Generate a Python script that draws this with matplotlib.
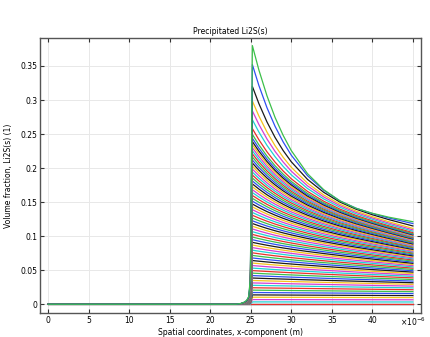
import numpy as np
import matplotlib
matplotlib.use('Agg')
import matplotlib.pyplot as plt

# peak volume fraction of each curve (time steps, first three still zero)
peaks = [0, 0, 0,
         0.0034, 0.0068, 0.0103, 0.0137, 0.0172, 0.0207, 0.0242, 0.0278,
         0.0313, 0.0349, 0.0385, 0.0421, 0.0457, 0.0494, 0.0531, 0.0568,
         0.0605, 0.0642, 0.0680, 0.0717, 0.0755, 0.0794, 0.0832, 0.0870,
         0.0909, 0.0948, 0.0987, 0.1026, 0.1066, 0.1106, 0.1146, 0.1186,
         0.1226, 0.1266, 0.1307, 0.1348, 0.1389, 0.1430, 0.1472, 0.1514,
         0.1556, 0.1598, 0.1640, 0.1682, 0.1725, 0.1768, 0.1811, 0.1854,
         0.1898, 0.1941, 0.1985, 0.2029, 0.2074, 0.2118, 0.2163, 0.2208,
         0.2253, 0.2298, 0.2344, 0.2389, 0.2438, 0.2495,
         0.258, 0.271, 0.284, 0.2985, 0.320, 0.352, 0.380]

# value of each curve at the right boundary (x = 45 um)
ends = [0, 0, 0,
        0.0033, 0.0065, 0.0097, 0.0127, 0.0157, 0.0185, 0.0213, 0.0240,
        0.0266, 0.0292, 0.0316, 0.0340, 0.0363, 0.0387, 0.0409, 0.0430,
        0.0451, 0.0472, 0.0492, 0.0511, 0.0530, 0.0549, 0.0567, 0.0584,
        0.0601, 0.0618, 0.0634, 0.0650, 0.0666, 0.0682, 0.0697, 0.0711,
        0.0725, 0.0739, 0.0753, 0.0766, 0.0779, 0.0792, 0.0805, 0.0817,
        0.0829, 0.0841, 0.0853, 0.0864, 0.0875, 0.0886, 0.0897, 0.0907,
        0.0918, 0.0927, 0.0937, 0.0947, 0.0957, 0.0966, 0.0975, 0.0984,
        0.0993, 0.1002, 0.1010, 0.1019, 0.1028, 0.1038,
        0.1052, 0.1073, 0.1093, 0.1114, 0.1150, 0.1185, 0.1212]

# rising foot in front of the interface (fraction of peak)
rise_x = [0, 23.2, 23.8, 24.2, 24.5, 24.75, 24.95, 25.1]
rise_frac = [0, 0, 0.003, 0.008, 0.015, 0.03, 0.1, 0.6]

# decay from the peak to the boundary (0 = end value, 1 = peak value)
decay_x = [25.2, 26, 27, 28, 29, 30, 32, 34, 36, 38, 40, 42, 45]
decay_top = [1, 0.862, 0.715, 0.592, 0.49, 0.404, 0.273, 0.182, 0.118,
             0.076, 0.048, 0.026, 0]
decay_low = [1, 0.960, 0.909, 0.859, 0.808, 0.758, 0.657, 0.556, 0.455,
             0.354, 0.253, 0.152, 0]

colors = ['#2f4ff2', '#3cbf4a', '#e8302c', '#1ed2d2', '#d43fd4', '#f5c21b', '#1a1a1a']

plt.rcParams['font.family'] = 'DejaVu Sans'
fig = plt.figure(figsize=(4.30, 3.37), dpi=100)
ax = fig.add_axes([0.093, 0.071, 0.886, 0.816])

pmax = max(peaks)
for i, (p, e) in enumerate(zip(peaks, ends)):
    w = p / pmax
    shape = w * np.array(decay_top) + (1 - w) * np.array(decay_low)
    xs = np.concatenate([rise_x, decay_x])
    ys = np.concatenate([np.array(rise_frac) * p, e + (p - e) * shape])
    ax.plot(xs, ys, color=colors[i % 7], lw=0.9)

ax.set_xlim(-1, 46)
ax.set_ylim(-0.013, 0.391)
xt = np.arange(0, 50, 5)
ax.set_xticks(xt)
ax.set_xticklabels([str(v) for v in xt[:-1]] + [r'$\times10^{-6}$'])
yt = [0, 0.05, 0.1, 0.15, 0.2, 0.25, 0.3, 0.35]
ax.set_yticks(yt)
ax.set_yticklabels(['0', '0.05', '0.1', '0.15', '0.2', '0.25', '0.3', '0.35'])
ax.grid(True, color='#e8e8e8', lw=0.7)
ax.set_axisbelow(True)
ax.tick_params(direction='in', length=3, width=0.8, top=True, right=True,
               labelsize=5.5, pad=2, color='#333333')
for s in ax.spines.values():
    s.set_color('#555555')
    s.set_linewidth(1.0)

ax.set_title('Precipitated Li2S(s)', fontsize=5.5, pad=3)
ax.set_xlabel('Spatial coordinates, x-component (m)', fontsize=5.5, labelpad=0)
ax.set_ylabel('Volume fraction, Li2S(s) (1)', fontsize=5.5, labelpad=5)

fig.savefig('out.png', dpi=100)
